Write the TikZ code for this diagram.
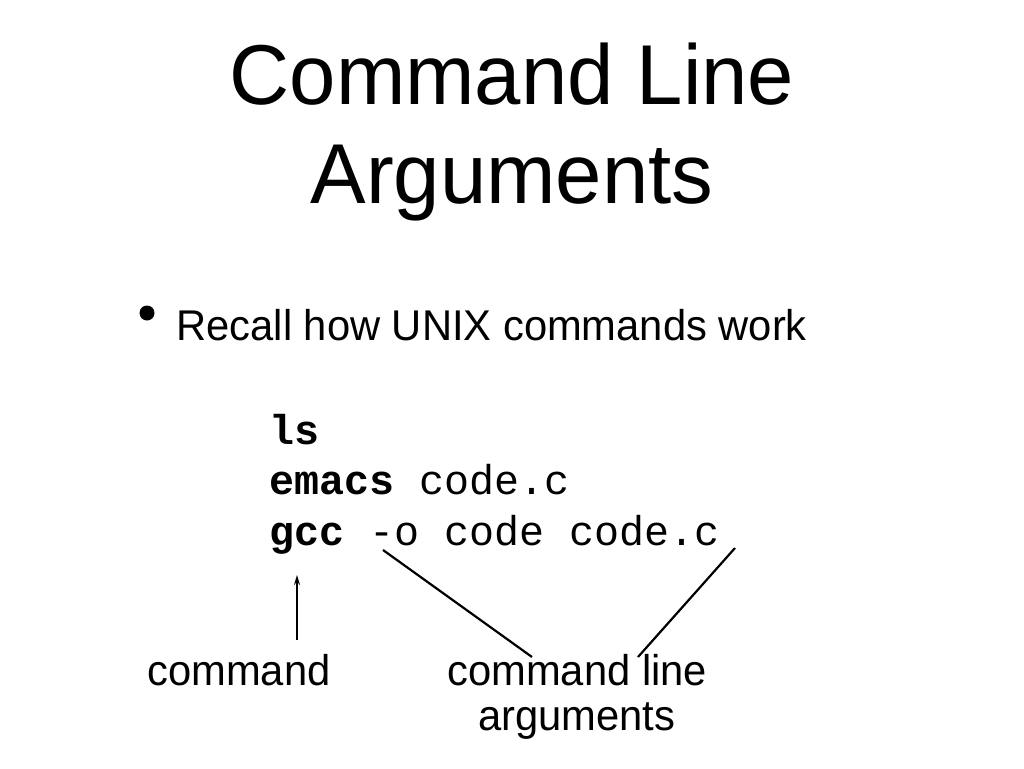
\documentclass[tikz,border=0pt]{standalone}
\usepackage{fontspec}
\setmainfont{Liberation Sans}
\setmonofont{Liberation Mono}
\newfontfamily\titlefont[FakeStretch=0.98]{Liberation Sans}
\newfontfamily\bodyfont[FakeStretch=0.97]{Liberation Sans}
\usetikzlibrary{arrows.meta}
\begin{document}
\begin{tikzpicture}[x=1pt, y=-1pt, thick,
	title/.style = {anchor=base, inner sep=0pt, font=\titlefont\fontsize{85}{99}\selectfont},
	body/.style = {anchor=base west, inner sep=0pt, font=\bodyfont\fontsize{43}{46}\selectfont},
	code/.style = {anchor=base west, inner sep=0pt, font=\ttfamily\fontsize{41.7}{50}\selectfont},
	dot/.style = {circle, fill=black, inner sep=0pt, minimum size=15pt}]
	\useasboundingbox (0,0) rectangle (1024,768);

	\node[title] (t1) at (512,104) {Command Line};
	\node[title] (t2) at (512,203) {Arguments};

	\node[dot] (b) at (147,313) {};
	\node[body] (p) at (176,340) {Recall how UNIX commands work};

	\node[code] (c1) at (269,444) {\textbf{ls}};
	\node[code] (c2) at (269,494) {\textbf{emacs} code.c};
	\node[code] (c3) at (269,545) {\textbf{gcc} -o code code.c};

	\node[body] (l1) at (147,685) {command};
	\node[body] (l2) at (447,685) {command line};
	\node[body] (l3) at (478,730) {arguments};

	\coordinate (a1) at (297,640);
	\coordinate (a2) at (297,575);
	\coordinate (o1) at (383,550);
	\coordinate (o2) at (532,657);
	\coordinate (f1) at (735,548);
	\coordinate (f2) at (638,657);

	\draw[-{Stealth[length=10pt,width=6pt]}, line width=1.8pt] (a1) to (a2);
	\draw[line width=2.2pt] (o1) to (o2);
	\draw[line width=2.2pt] (f1) to (f2);
\end{tikzpicture}
\end{document}
